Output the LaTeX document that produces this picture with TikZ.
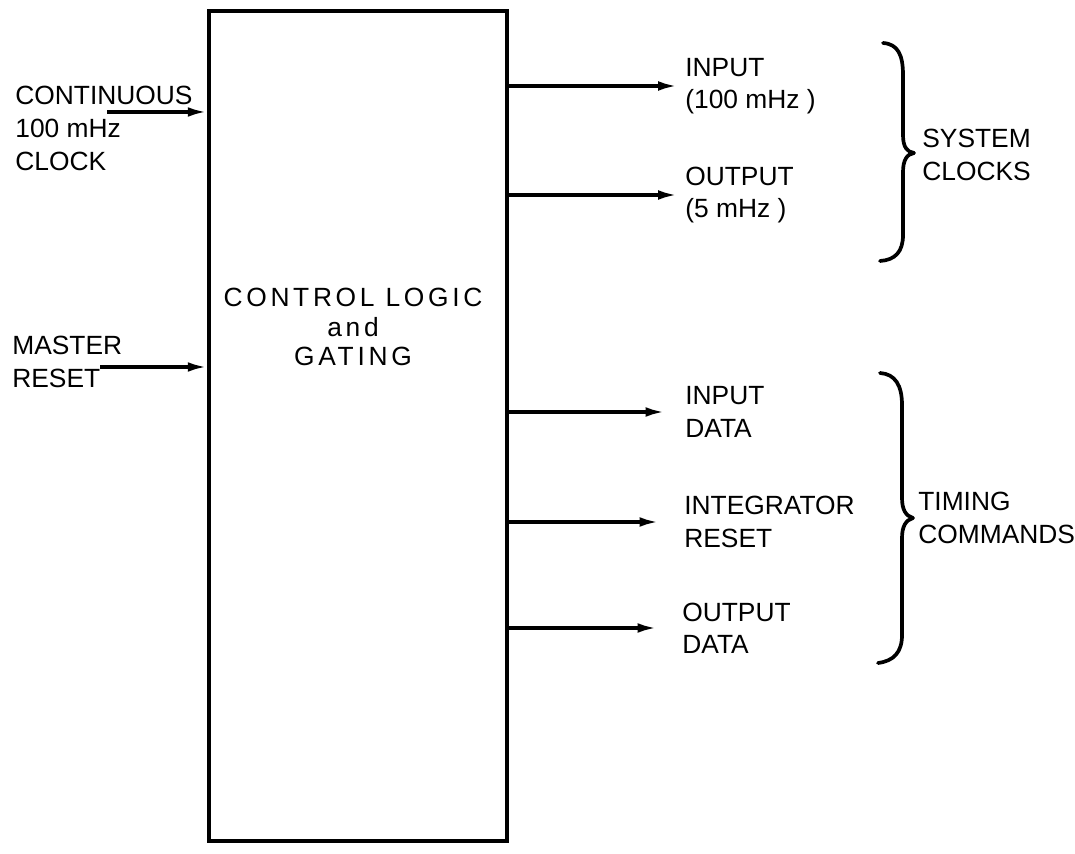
\documentclass[tikz,border=0pt]{standalone}
\usepackage{fontspec}
\setmainfont{Liberation Sans}
\usetikzlibrary{arrows.meta}
\begin{document}
\begin{tikzpicture}[x=0.02cm,y=-0.02cm,
  lbl/.style={anchor=west, inner sep=0pt, align=left, font=\fontsize{15}{18.3}\selectfont},
  conn/.style={line width=2pt, -{Latex[length=11pt,width=5.5pt]}},
  blockbox/.style={draw, line width=2.1pt, minimum width=5.96cm, minimum height=16.6cm, inner sep=0pt},
  bracepath/.style={line width=2.1pt, line cap=round, line join=round}]
\useasboundingbox (0,0) rectangle (1075,854);

% main block
\node[blockbox] (box) at (358,426) {};
\node[inner sep=0pt, align=center, font=\fontsize{15}{17}\selectfont\addfontfeature{LetterSpace=14}] (ctl) at (353,327) {CONTROL LOGIC\\and\\GATING};

% inputs
\node[lbl, font=\fontsize{15}{18.8}\selectfont] (cont) at (15,128) {CONTINUOUS\\100 mHz\\CLOCK};
\coordinate (cin) at (107,112);
\draw[conn] (cin) -- (cin -| box.west);

\node[lbl] (mr) at (12,362) {MASTER\\RESET};
\coordinate (mrin) at (100,367);
\draw[conn] (mrin) -- (mrin -| box.west);

% outputs - system clocks
\node[lbl] (inclk) at (685,86) {INPUT\\(100 mHz )};
\node[lbl] (outclk) at (685,195) {OUTPUT\\(5 mHz )};
\draw[conn] (box.east |- inclk.west) -- ([xshift=-0.15cm]inclk.west);
\draw[conn] (box.east |- outclk.west) -- ([xshift=-0.15cm]outclk.west);

% outputs - timing commands
\node[lbl] (indata) at (685,412) {INPUT\\DATA};
\node[lbl] (intres) at (684,522) {INTEGRATOR\\RESET};
\node[lbl] (outdata) at (682,628) {OUTPUT\\DATA};
\draw[conn] (box.east |- indata.west) -- ([xshift=-0.4cm]indata.west);
\draw[conn] (box.east |- intres.west) -- ([xshift=-0.5cm]intres.west);
\draw[conn] (box.east |- outdata.west) -- ([xshift=-0.5cm]outdata.west);

% braces
\draw[bracepath] (883,43) .. controls (898,44) and (903,55) .. (903,75)
  -- (903,135) .. controls (903,147) and (907,152) .. (914,153)
  .. controls (907,154) and (903,160) .. (903,172)
  -- (903,235) .. controls (903,252) and (895,260) .. (880,261);
\node[lbl] (sys) at (922,155) {SYSTEM\\CLOCKS};

\draw[bracepath] (880,373) .. controls (895,374) and (902,385) .. (902,405)
  -- (902,498) .. controls (902,510) and (906,516) .. (913,518)
  .. controls (906,520) and (902,526) .. (902,538)
  -- (902,635) .. controls (902,652) and (894,661) .. (878,663);
\node[lbl] (tim) at (918,518) {TIMING\\COMMANDS};
\end{tikzpicture}
\end{document}
